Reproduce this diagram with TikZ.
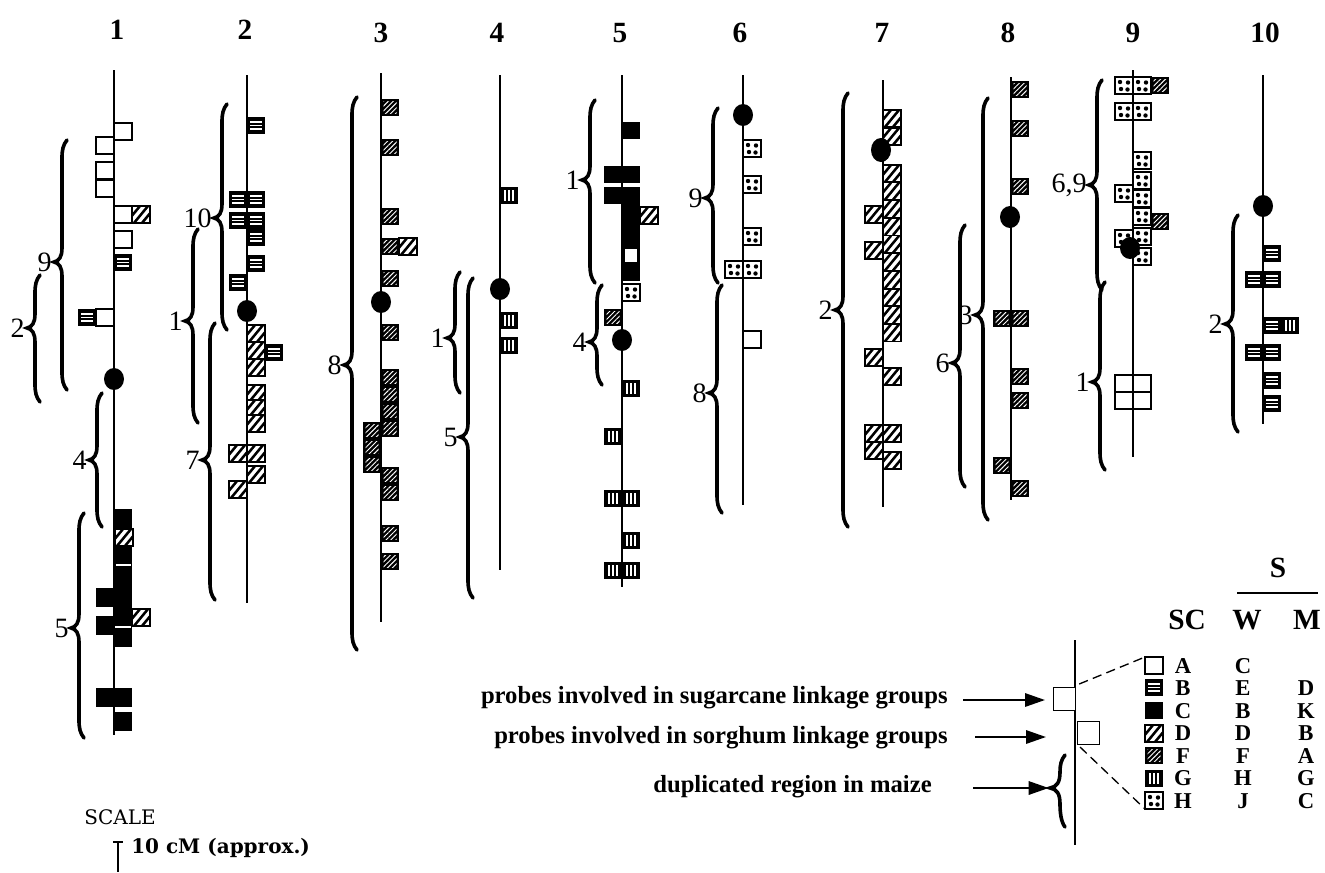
\documentclass[tikz,border=0pt]{standalone}
\usepackage{fontspec}
\setmainfont{Liberation Serif}
\newfontfamily\dvs{DejaVu Serif}
\usetikzlibrary{arrows.meta,patterns.meta}
\tikzset{
  chrom/.style={line width=1.1pt},
  bd/.style={line width=0.9pt},
  brace/.style={line width=2.7pt,line cap=round},
  blab/.style={font=\fontsize{21}{21}\selectfont,inner sep=0pt},
  toplab/.style={font=\fontsize{22}{22}\selectfont\bfseries,inner sep=0pt},
  ltxt/.style={font=\fontsize{18.5}{18.5}\selectfont\bfseries,inner sep=0pt},
  hdr/.style={font=\fontsize{22}{22}\selectfont\bfseries,inner sep=0pt},
  leg/.style={font=\fontsize{17}{17}\selectfont\bfseries,inner sep=0pt},
  arr/.style={line width=1.6pt,-{Triangle[length=15pt,width=10pt]}},
  lbox/.style={draw,line width=0.9pt,fill=white,minimum width=16.5pt,minimum height=17pt,inner sep=0pt}
}
\newcommand\bA[2]{\draw[bd,fill=white] (#1,#2) rectangle ++(18,17);}
\newcommand\bC[2]{\fill (#1,#2) rectangle ++(18,17);}
\newcommand\bB[2]{\begin{scope}[shift={(#1,#2)}]\fill (0,0) rectangle (18,17);\draw[white,line width=1.1pt] (3,5)--(15,5) (3,8.5)--(15,8.5) (3,12)--(15,12);\end{scope}}
\newcommand\bG[2]{\begin{scope}[shift={(#1,#2)}]\fill (0,0) rectangle (18,17);\draw[white,line width=1.1pt] (5,3)--(5,14) (9,3)--(9,14) (13,3)--(13,14);\end{scope}}
\newcommand\bD[2]{\begin{scope}[shift={(#1,#2)}]\draw[bd,fill=white] (0,0) rectangle (18,17);\clip (0,0) rectangle (18,17);\draw[line width=1.9pt] (-6,17)--(8,0) (2,17)--(16,0) (10,17)--(24,0);\end{scope}\draw[bd] (#1,#2) rectangle ++(18,17);}
\newcommand\bF[2]{\begin{scope}[shift={(#1,#2)}]\fill (0,0) rectangle (18,17);\fill[pattern={Lines[angle=45,distance=2.6pt,line width=0.7pt]},pattern color=white] (2.5,2.5) rectangle (15.5,14.5);\end{scope}}
\newcommand\bH[2]{\begin{scope}[shift={(#1,#2)}]\draw[bd,fill=white] (0,0) rectangle (18,17);\fill (5,5) circle (2.2) (13,5.5) circle (2.2) (6,12) circle (2.2) (12.5,12.5) circle (2.2);\end{scope}}
\newcommand\cen[2]{\fill (#1,#2) ellipse [x radius=10,y radius=11];}
\newcommand\brc[6]{%
\draw[brace] ({#2+5},#3) .. controls ({#2+1},{#3+5}) and ({#2},{#3+10}) .. ({#2},{#3+18}) -- ({#2},{#4-14}) .. controls ({#2},{#4-5}) and ({#2-3},{#4-1}) .. ({#2-8},#4) .. controls ({#2-3},{#4+1}) and ({#2},{#4+5}) .. ({#2},{#4+14}) -- ({#2},{#5-18}) .. controls ({#2},{#5-10}) and ({#2+1},{#5-5}) .. ({#2+5},#5);
\node[blab,anchor=east] (#1) at ({#2-10},#4) {#6};}
\begin{document}
\begin{tikzpicture}[x=0.75pt,y=-0.75pt]
\useasboundingbox[fill=white] (0,0) rectangle (1325,872);
% top labels
\node[toplab] (n1) at (117,30) {1};
\node[toplab] (n2) at (245,30) {2};
\node[toplab] (n3) at (381,33) {3};
\node[toplab] (n4) at (497,33) {4};
\node[toplab] (n5) at (620,33) {5};
\node[toplab] (n6) at (740,33) {6};
\node[toplab] (n7) at (882,33) {7};
\node[toplab] (n8) at (1008,33) {8};
\node[toplab] (n9) at (1133,33) {9};
\node[toplab] (n10) at (1265,33) {10};
% chromosome lines
\draw[chrom] (114,70) -- (114,735);
\draw[chrom] (247,75) -- (247,603);
\draw[chrom] (381,73) -- (381,622);
\draw[chrom] (500,75) -- (500,570);
\draw[chrom] (622,75) -- (622,587);
\draw[chrom] (743,75) -- (743,505);
\draw[chrom] (883,80) -- (883,507);
\draw[chrom] (1011,77) -- (1011,500);
\draw[chrom] (1133,70) -- (1133,457);
\draw[chrom] (1263,75) -- (1263,424);
% ---- chr 1
\bA{114}{123}\bA{96}{137}\bA{96}{162}\bA{96}{180}
\bA{114}{206}\bD{132}{206}\bA{114}{231}\bB{114}{254}
\bB{78}{309}\bA{96}{309}
\cen{114}{379}
\fill (114,509) rectangle (132,647);
\bD{115}{529}
\draw[white,line width=0.8pt] (116,565) -- (131,565);
\fill (96,588) rectangle (114,607);
\fill (96,616) rectangle (114,635);
\bD{132}{609}
\draw[white,line width=0.8pt] (115,627) -- (131,627);
\fill (96,688) rectangle (132,707);
\fill (114,712) rectangle (132,731);
\brc{b1a}{62}{140}{262}{390}{9}
\brc{b1b}{35}{275}{328}{402}{2}
\brc{b1c}{97}{393}{460}{527}{4}
\brc{b1d}{79}{513}{628}{738}{5}
% ---- chr 2
\bB{247}{117}
\bB{229}{191}\bB{247}{191}
\bB{229}{212}\bB{247}{212}
\bB{247}{229}
\bB{247}{255}
\bB{229}{274}
\cen{247}{311}
\bD{247}{325}\bD{247}{342}\bD{247}{359}
\bB{265}{344}
\bD{247}{385}\bD{247}{400}\bD{247}{415}
\bD{229}{445}\bD{247}{445}
\bD{247}{466}
\bD{229}{481}
\brc{b2a}{222}{104}{218}{330}{10}
\brc{b2b}{193}{229}{321}{423}{1}
\brc{b2c}{210}{323}{460}{600}{7}
% ---- chr 3
\bF{381}{99}\bF{381}{139}\bF{381}{208}
\bF{381}{238}\bD{399}{238}
\bF{381}{270}
\cen{381}{302}
\bF{381}{324}
\bF{381}{369}\bF{381}{386}\bF{381}{403}\bF{381}{420}
\bF{363}{422}\bF{363}{439}\bF{363}{456}
\bF{381}{467}\bF{381}{484}
\bF{381}{525}\bF{381}{553}
\brc{b3a}{352}{97}{365}{650}{8}
% ---- chr 4
\bG{500}{187}
\cen{500}{289}
\bG{500}{312}\bG{500}{337}
\brc{b4a}{455}{272}{338}{393}{1}
\brc{b4b}{468}{278}{437}{598}{5}
% ---- chr 5
\bC{622}{122}
\bC{604}{166}\bC{622}{166}
\bC{604}{187}\bC{622}{187}
\fill (622,204) rectangle (640,281);
\draw[bd,fill=white] (624,248) rectangle (638,263);
\bD{640}{207}
\bH{622}{284}
\bF{604}{309}
\cen{622}{340}
\bG{622}{380}
\bG{604}{428}
\bG{604}{490}\bG{622}{490}
\bG{622}{532}
\bG{604}{562}\bG{622}{562}
\brc{b5a}{590}{100}{180}{283}{1}
\brc{b5b}{597}{285}{342}{385}{4}
% ---- chr 6
\cen{743}{115}
\bH{743}{140}\bH{743}{176}\bH{743}{228}
\bH{725}{261}\bH{743}{261}
\bA{743}{331}
\brc{b6a}{713}{108}{198}{283}{9}
\brc{b6b}{717}{285}{393}{513}{8}
% ---- chr 7
\bD{883}{110}\bD{883}{128}
\fill (881,150) ellipse [x radius=10,y radius=12];
\foreach \k in {0,...,9}{\bD{883}{165+17.7*\k}}
\bD{865}{206}\bD{865}{242}
\bD{865}{349}
\bD{883}{368}
\bD{865}{425}\bD{883}{425}
\bD{865}{442}
\bD{883}{452}
\brc{b7a}{843}{93}{310}{527}{2}
% ---- chr 8
\bF{1011}{81}\bF{1011}{120}\bF{1011}{178}
\cen{1010}{217}
\bF{993}{310}\bF{1011}{310}
\bF{1011}{368}\bF{1011}{392}
\bF{993}{457}
\bF{1011}{480}
\brc{b8a}{983}{98}{315}{520}{3}
\brc{b8b}{960}{225}{363}{487}{6}
% ---- chr 9
\bH{1115}{77}\bH{1133}{77}\bF{1151}{77}
\bH{1115}{103}\bH{1133}{103}
\bH{1133}{152}\bH{1133}{172}
\bH{1115}{185}\bH{1133}{190}
\bH{1133}{208}\bF{1151}{213}
\bH{1115}{230}\bH{1133}{228}
\bH{1133}{248}
\cen{1130}{248}
\bA{1115}{375}\bA{1133}{375}\bA{1115}{392}\bA{1133}{392}
\brc{b9a}{1097}{80}{185}{290}{6,9}
\brc{b9b}{1100}{282}{382}{470}{1}
% ---- chr 10
\cen{1263}{206}
\bB{1263}{245}
\bB{1245}{271}\bB{1263}{271}
\bB{1263}{317}\bG{1281}{317}
\bB{1245}{344}\bB{1263}{344}
\bB{1263}{372}
\bB{1263}{395}
\brc{b10a}{1233}{215}{324}{432}{2}
% ---- legend
\node[hdr] (hS) at (1278,568) {S};
\draw[line width=1pt] (1237,593) -- (1318,593);
\node[hdr] (hSC) at (1187,620) {SC};
\node[hdr] (hW) at (1247,620) {W};
\node[hdr] (hM) at (1307,620) {M};
\draw[chrom] (1075,640) -- (1075,845);
\node[lbox,anchor=north west] (lbox1) at (1053,687) {};
\node[lbox,anchor=north west] (lbox2) at (1077,721) {};
\draw[brace] (1065,755) .. controls (1061,760) and (1060,765) .. (1060,772) .. controls (1060,782) and (1057,787) .. (1050,788) .. controls (1057,789) and (1060,794) .. (1060,804) .. controls (1060,812) and (1061,822) .. (1065,827);
\coordinate (btip) at (1050,788);
\bA{1145}{657}\bB{1145}{679}\bC{1145}{702}\bD{1145}{725}\bF{1145}{747}\bG{1145}{770}\bH{1145}{792}
\coordinate (sA) at (1145,657);
\coordinate (sH) at (1145,809);
\draw[line width=1pt,dash pattern=on 7pt off 4pt] (lbox1.north east) ++(3,-3) -- (sA);
\draw[line width=1pt,dash pattern=on 7pt off 4pt] (1080,747) -- (sH);
\foreach \r/\a/\b/\c [count=\i from 0] in {A/C/{}, B/E/D, C/B/K, D/D/B, F/F/A, G/H/G, H/J/C}{
  \node[leg] (lsc\i) at (1183,{666+22.5*\i}) {\r};
  \node[leg] (lw\i) at (1243,{666+22.5*\i}) {\a};
  \node[leg] (lm\i) at (1306,{666+22.5*\i}) {\b};
}
\node[ltxt,anchor=east] (t1) at (948,698) {probes involved in sugarcane linkage groups};
\node[ltxt,anchor=east] (t2) at (948,738) {probes involved in sorghum linkage groups};
\node[ltxt,anchor=east] (t3) at (932,787) {duplicated region in maize};
\coordinate (a1) at (963,700);
\coordinate (a2) at (975,737);
\coordinate (a2e) at (1046,737);
\coordinate (a3) at (973,788);
\draw[arr,shorten >=6pt] (a1) -- (lbox1.west |- a1);
\draw[arr] (a2) -- (a2e);
\draw[arr,shorten >=1pt] (a3) -- (btip);
% scale
\node[font=\dvs\fontsize{15}{15}\selectfont,inner sep=0pt] (scl) at (120,817) {SCALE};
\node[font=\dvs\fontsize{15}{15}\selectfont\bfseries,inner sep=0pt,anchor=west] (sc10) at (131,848) {10 cM (approx.)};
\draw[line width=0.9pt] (118,842) -- (118,872);
\draw[line width=0.9pt] (113,842) -- (123,842);
\end{tikzpicture}
\end{document}
